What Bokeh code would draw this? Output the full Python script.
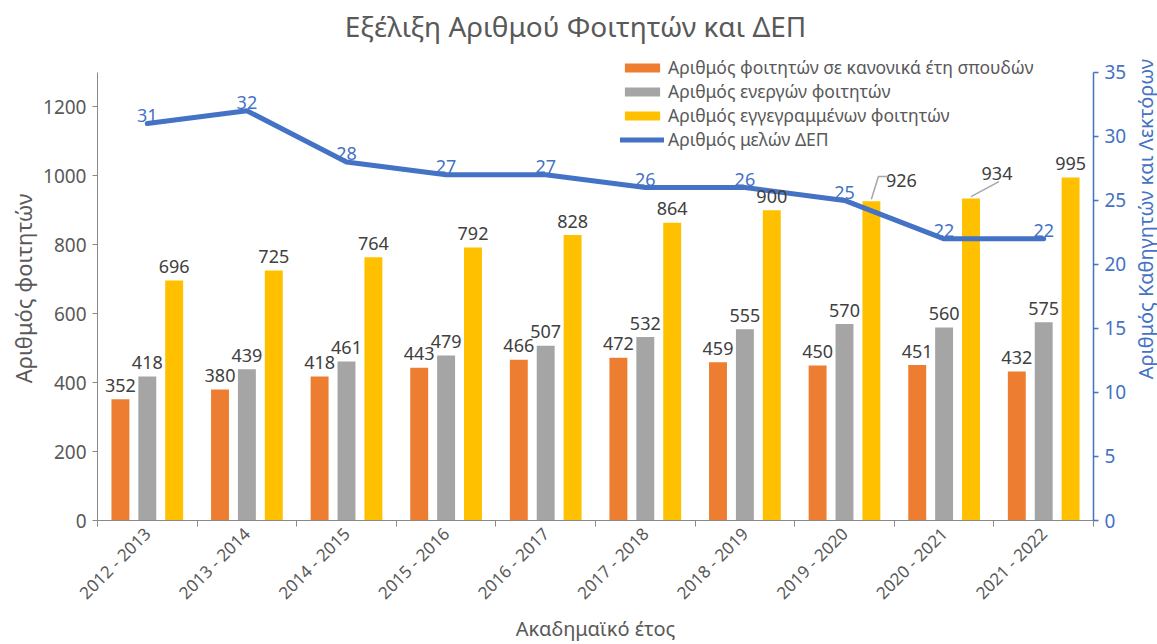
import math
from bokeh.plotting import figure
from bokeh.layouts import row, column
from bokeh.models import (Range1d, LinearAxis, FixedTicker, CustomJSTickFormatter,
                          Legend, LegendItem, ColumnDataSource)
from bokeh.core.properties import value
from bokeh.embed import file_html
from bokeh.resources import INLINE

# ---------------- data ----------------
years = ["2012 - 2013", "2013 - 2014", "2014 - 2015", "2015 - 2016", "2016 - 2017",
         "2017 - 2018", "2018 - 2019", "2019 - 2020", "2020 - 2021", "2021 - 2022"]
regular = [352, 380, 418, 443, 466, 472, 459, 450, 451, 432]
active = [418, 439, 461, 479, 507, 532, 555, 570, 560, 575]
enrolled = [696, 725, 764, 792, 828, 864, 900, 926, 934, 995]
faculty = [31, 32, 28, 27, 27, 26, 26, 25, 22, 22]
left_ticks = [0, 200, 400, 600, 800, 1000, 1200]
right_ticks = [0, 5, 10, 15, 20, 25, 30, 35]

title_text = "Εξέλιξη Αριθμού Φοιτητών και ΔΕΠ"
names = ["Αριθμός φοιτητών σε κανονικά έτη σπουδών", "Αριθμός ενεργών φοιτητών",
         "Αριθμός εγγεγραμμένων φοιτητών", "Αριθμός μελών ΔΕΠ"]
ylabel_left = "Αριθμός φοιτητών"
ylabel_right = "Αριθμός Καθηγητών και Λεκτόρων"
xlabel = "Ακαδημαϊκό έτος"

# ---------------- styles ----------------
FONT = "Noto Sans"
C_OR, C_GR, C_YE, C_BL = "#ED7D31", "#A5A5A5", "#FFC000", "#4472C4"
TXT = "#595959"
LBL = "#404040"
AX = "#898989"

W_TOTAL, H_TOTAL = 1157, 644
HT = 56                           # height of the title strip
W2 = 28                           # narrow strip holding the right axis title
W, H = W_TOTAL - W2, H_TOTAL - HT
ML, MR, MT, MB = 97, 34, 0, 120
FW, FH = W - ML - MR, H - MT - MB
AXIS_H = 452                      # pixel height of the axis span (0..YMAX)
YMAX, RMAX = 1300, 35
YTOP = YMAX * FH / AXIS_H
RTOP = RMAX * FH / AXIS_H
N = len(years)
XPX = FW / N
YPX = FH / YTOP

BW = 0.18
OFF = 0.27


def strip(width, height):
    f = figure(width=width, height=height, x_range=Range1d(0, width),
               y_range=Range1d(0, height), output_backend="svg", toolbar_location=None,
               title=None, min_border_left=0, min_border_right=0, min_border_top=0,
               min_border_bottom=0, x_axis_location=None, y_axis_location=None)
    f.outline_line_color = None
    f.xgrid.visible = False
    f.ygrid.visible = False
    f.border_fill_color = "white"
    f.background_fill_color = "white"
    return f


p = figure(width=W, height=H, x_range=Range1d(0, N), y_range=Range1d(0, YTOP),
           output_backend="svg", toolbar_location=None, title=None,
           min_border_left=ML, min_border_right=MR, min_border_top=MT, min_border_bottom=MB,
           y_axis_location=None, x_axis_location=None)
p.extra_y_ranges = {"dep": Range1d(0, RTOP)}
p.outline_line_color = None
p.xgrid.visible = False
p.ygrid.visible = False
p.background_fill_color = "white"
p.border_fill_color = "white"

centers = [i + 0.5 for i in range(N)]

# left axis
yaxis = LinearAxis(ticker=FixedTicker(ticks=left_ticks, minor_ticks=[]), bounds=(0, YMAX),
                   axis_label=ylabel_left)
yaxis.axis_line_color = AX
yaxis.major_tick_line_color = AX
yaxis.major_tick_in = 0
yaxis.major_tick_out = 5
yaxis.minor_tick_line_color = None
yaxis.major_label_text_font = FONT
yaxis.major_label_text_font_size = "19px"
yaxis.major_label_text_color = TXT
yaxis.major_label_standoff = 6
yaxis.axis_label_text_font = FONT
yaxis.axis_label_text_font_size = "22px"
yaxis.axis_label_text_font_style = "normal"
yaxis.axis_label_text_color = TXT
yaxis.axis_label_standoff = 2
p.add_layout(yaxis, "left")

# right axis
raxis = LinearAxis(y_range_name="dep", ticker=FixedTicker(ticks=right_ticks, minor_ticks=[]),
                   bounds=(0, RMAX))
raxis.axis_line_color = C_BL
raxis.axis_line_width = 1.5
raxis.major_tick_line_color = C_BL
raxis.major_tick_line_width = 1.5
raxis.major_tick_in = 0
raxis.major_tick_out = 5
raxis.minor_tick_line_color = None
raxis.major_label_text_font = FONT
raxis.major_label_text_font_size = "19px"
raxis.major_label_text_color = C_BL
raxis.major_label_standoff = 6
p.add_layout(raxis, "right")

# bottom axis
xaxis = LinearAxis(ticker=FixedTicker(ticks=centers, minor_ticks=list(range(N + 1))),
                   formatter=CustomJSTickFormatter(args=dict(labels=years),
                                                   code="return labels[Math.floor(tick)];"),
                   axis_label=xlabel)
xaxis.axis_line_color = AX
xaxis.major_tick_line_color = None
xaxis.major_tick_out = 0
xaxis.major_tick_in = 0
xaxis.minor_tick_line_color = AX
xaxis.minor_tick_in = 0
xaxis.minor_tick_out = 6
xaxis.major_label_orientation = math.pi / 4
xaxis.major_label_text_font = FONT
xaxis.major_label_text_font_size = "17px"
xaxis.major_label_text_color = TXT
xaxis.major_label_standoff = 4
xaxis.axis_label_text_font = FONT
xaxis.axis_label_text_font_size = "20px"
xaxis.axis_label_text_font_style = "normal"
xaxis.axis_label_text_color = TXT
xaxis.axis_label_standoff = 0
p.add_layout(xaxis, "below")

# bars
src = ColumnDataSource(dict(
    xo=[c - OFF for c in centers], xg=centers, xy=[c + OFF for c in centers],
    reg=regular, act=active, enr=enrolled,
    reg_t=[str(v) for v in regular], act_t=[str(v) for v in active],
    enr_t=[str(v) for v in enrolled],
))
r1 = p.vbar(x="xo", top="reg", width=BW, source=src, fill_color=C_OR, line_color=None)
r2 = p.vbar(x="xg", top="act", width=BW, source=src, fill_color=C_GR, line_color=None)
r3 = p.vbar(x="xy", top="enr", width=BW, source=src, fill_color=C_YE, line_color=None)

# faculty line
lsrc = ColumnDataSource(dict(x=centers, y=faculty, t=[str(v) for v in faculty]))
r4 = p.line(x="x", y="y", source=lsrc, y_range_name="dep", line_color=C_BL, line_width=5,
            line_join="round", line_cap="round")

# bar labels
common = dict(text_font=value(FONT), text_font_size="18px", text_color=LBL,
              text_align="center", text_baseline="alphabetic")
p.text(x="xo", y="reg", text="reg_t", source=src, y_offset=-14, **common)
p.text(x="xg", y="act", text="act_t", source=src, y_offset=-14, **common)

# yellow labels (two moved with leader lines)
ye_dx = [0, 0, 0, 0, 0, 0, 0, 30, 26, 0]
ye_dy = [-14, -14, -14, -14, -14, -14, -14, -21, -25, -14]
ysrc = ColumnDataSource(dict(x=[c + OFF for c in centers], y=enrolled,
                             t=[str(v) for v in enrolled], dx=ye_dx, dy=ye_dy))
p.text(x="x", y="y", text="t", source=ysrc, x_offset="dx", y_offset="dy", **common)

leader_px = {7: [(0, -2), (7, -25), (17, -25)], 8: [(0, -2), (28, -17)]}
lxs, lys = [], []
for i, pts in leader_px.items():
    xc = centers[i] + OFF
    lxs.append([xc + dx / XPX for dx, dy in pts])
    lys.append([enrolled[i] - dy / YPX for dx, dy in pts])
p.multi_line(xs=lxs, ys=lys, line_color="#A6A6A6", line_width=1.5)

# line labels
p.text(x="x", y="y", text="t", source=lsrc, y_range_name="dep", y_offset=-8,
       text_font=value(FONT), text_font_size="18px", text_color=C_BL,
       text_align="center", text_baseline="alphabetic")

# legend (location = bottom-left corner, screen px from frame bottom-left)
legend = Legend(items=[LegendItem(label=names[0], renderers=[r1]),
                       LegendItem(label=names[1], renderers=[r2]),
                       LegendItem(label=names[2], renderers=[r3]),
                       LegendItem(label=names[3], renderers=[r4])],
                location=(523, 369), orientation="vertical")
legend.background_fill_alpha = 0
legend.border_line_color = None
legend.padding = 0
legend.margin = 0
legend.spacing = 0
legend.glyph_width = 44
legend.glyph_height = 11
legend.label_height = 23
legend.label_standoff = 4
legend.label_text_font = FONT
legend.label_text_font_size = "17.5px"
legend.label_text_color = TXT
p.add_layout(legend, "center")

# title strip above the chart
pt = strip(W_TOTAL, HT)
pt.text(x=[575], y=[HT - 25], text=[title_text], text_font=value(FONT),
        text_font_size="28px", text_color=TXT, text_align="center", text_baseline="middle")

# narrow strip to the right carrying the right-axis title (reads bottom to top)
p2 = strip(W2, H)
p2.text(x=[16], y=[H - (262 - HT)], text=[ylabel_right], angle=math.pi / 2,
        text_font=value(FONT), text_font_size="20px", text_color=C_BL,
        text_align="center", text_baseline="middle")

layout = column(pt, row(p, p2, spacing=0), spacing=0)
open("out.html", "w").write(file_html(layout, INLINE))
